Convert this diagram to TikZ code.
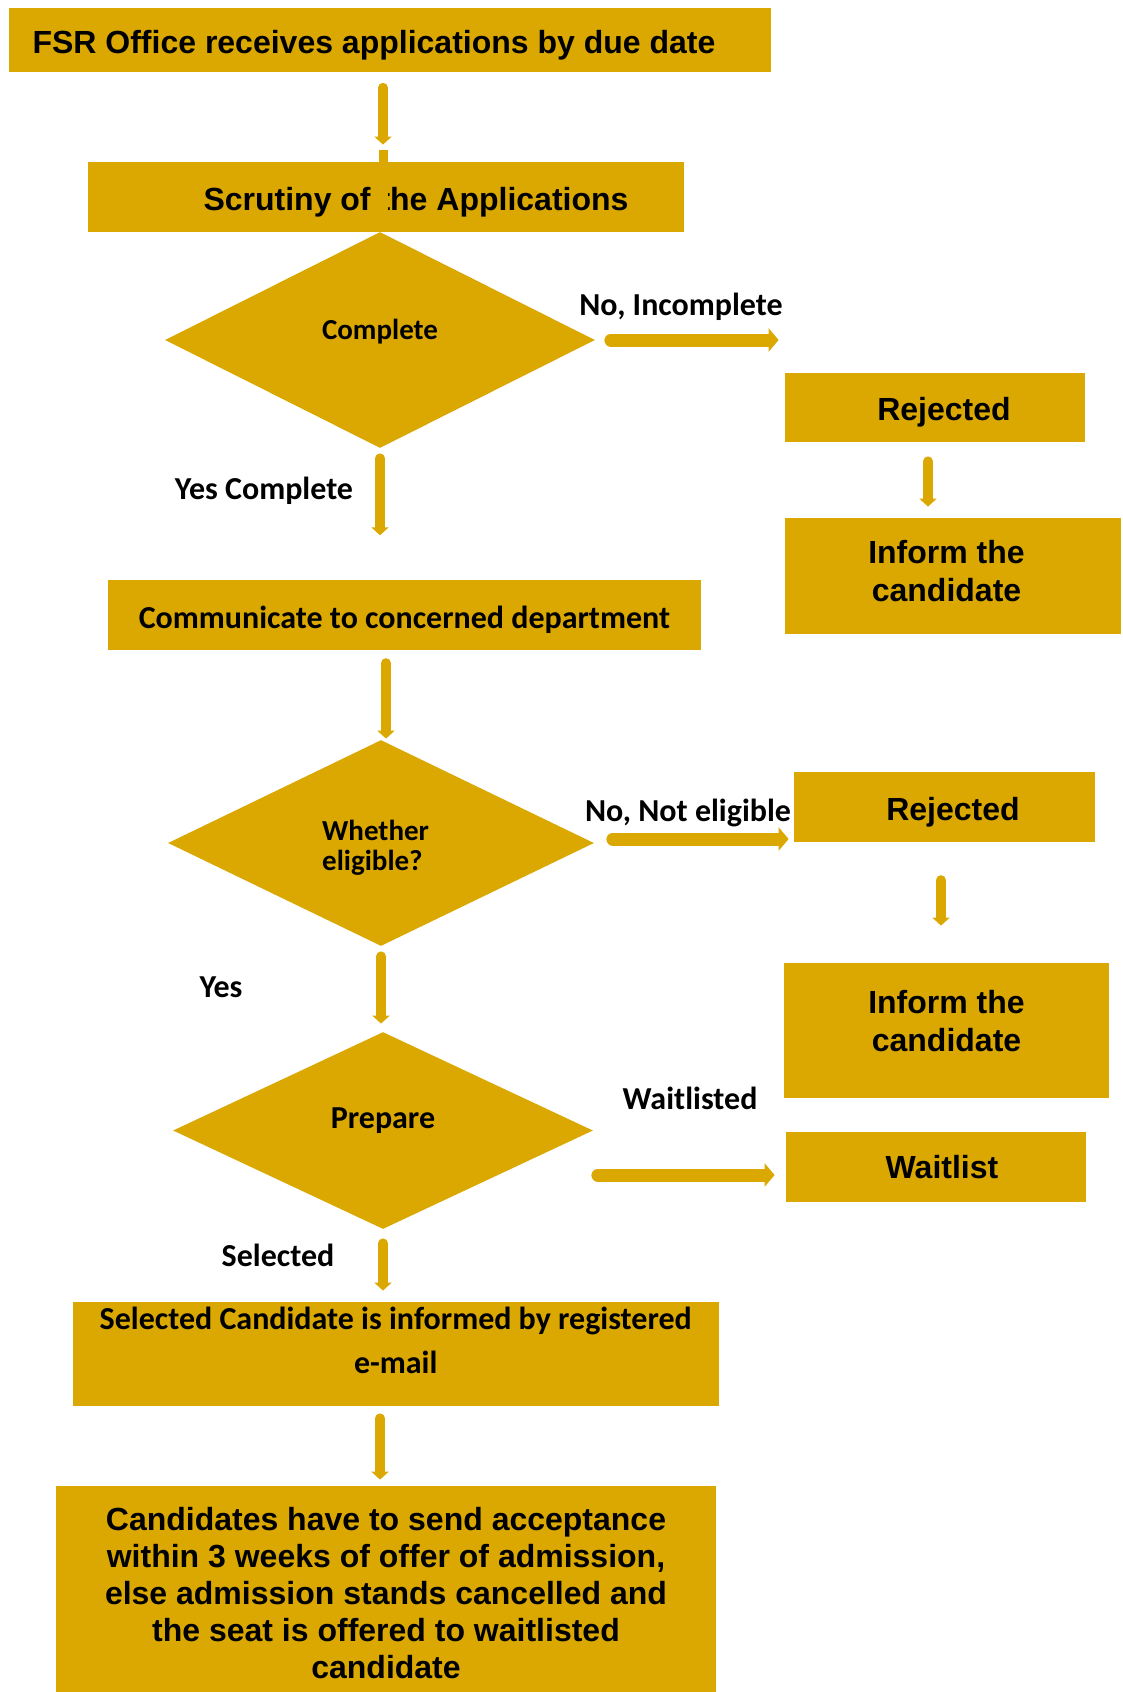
\documentclass[tikz,border=0pt]{standalone}
\usepackage{fontspec}
\setmainfont{Liberation Sans}
\newfontfamily\calibri{Carlito}
\usetikzlibrary{shapes.geometric,arrows.meta}
\definecolor{gold}{RGB}{218,168,0}
\tikzset{
	box/.style={fill=gold, inner sep=0pt, align=center, font=\bfseries\fontsize{16}{19}\selectfont},
	line/.style={text height=16pt, text depth=3pt},
	dia/.style={diamond, fill=gold, inner sep=0pt, align=center, font=\calibri\bfseries\fontsize{16}{19}\selectfont},
	lbl/.style={inner sep=0pt, font=\calibri\bfseries\fontsize{16}{19}\selectfont},
	flow/.style={draw=gold, line width=5pt, line cap=round, -{Triangle[length=4pt,width=8.5pt]}},
	flowh/.style={flow, line width=6.5pt, -{Triangle[length=5pt,width=11.5pt]}},
	cover/.style={draw=gold, line width=4.5pt}
}

\begin{document}
\begin{tikzpicture}[x=0.5pt, y=-0.5pt]
	\useasboundingbox (0,0) rectangle (1123,1692);
	\node[box, line, minimum width=381.2pt, minimum height=32.4pt] (fsr) at (390,40) {FSR Office receives applications by due date\hspace*{16pt}};
	\node[box, line, minimum width=297.8pt, minimum height=35pt] (scr) at (386,197) {\hspace*{30pt}Scrutiny of the Applications};
	\node[dia, minimum width=215pt, minimum height=108pt, font=\calibri\bfseries\fontsize{14.5}{15}\selectfont, text height=10pt, text depth=11pt] (c1) at (380,340) {Complete};
	\node[box, line, minimum width=150pt, minimum height=34.5pt] (rej1) at (935,407.5) {\hspace*{9pt}Rejected};
	\node[box, minimum width=168pt, minimum height=58pt] (inf1) at (953,576) {Inform the\kern6.5pt\\candidate\kern6.5pt\\[-13.6pt]\mbox{}};
	\node[box, minimum width=296.5pt, minimum height=35.3pt, font=\calibri\bfseries\fontsize{16}{19}\selectfont, text height=16pt, text depth=2.4pt] (com) at (404.5,615) {Communicate to concerned department};
	\node[dia, align=left, minimum width=213pt, minimum height=103pt, font=\calibri\bfseries\fontsize{14.5}{15}\selectfont] (c2) at (381,843) {\mbox{}\\[-0.5pt]Whether\kern5.4pt\\eligible?};
	\node[box, line, minimum width=150.5pt, minimum height=35.3pt] (rej2) at (944.5,807) {\hspace*{8.5pt}Rejected};
	\node[box, minimum width=162.5pt, minimum height=67.5pt] (inf2) at (946.5,1030.5) {Inform the\\candidate\\[-9pt]\mbox{}};
	\node[dia, minimum width=210pt, minimum height=98.5pt, text height=10pt, text depth=12.2pt] (c3) at (383,1130.5) {Prepare};
	\node[box, minimum width=150pt, minimum height=35pt] (wait) at (936,1167) {\hspace*{6pt}Waitlist};
	\node[box, minimum width=322.75pt, minimum height=52pt, font=\calibri\bfseries\fontsize{16}{22}\selectfont] (sel) at (395.75,1354) {Selected Candidate is informed by registered\\e-mail\\[-8pt]\mbox{}};
	\node[box, minimum width=330pt, minimum height=103.25pt, font=\bfseries\fontsize{16}{18.5}\selectfont] (fin) at (386,1588.75) {\mbox{}\\[-2.4pt]Candidates have to send acceptance\\within 3 weeks of offer of admission,\\else admission stands cancelled and\\the seat is offered to waitlisted\\candidate};
	\node[lbl] (lno1) at (681,307) {No, Incomplete};
	\node[lbl] (lyes1) at (264,491) {Yes Complete};
	\node[lbl] (lno2) at (688,813) {No, Not eligible};
	\node[lbl] (lyes2) at (221,987) {Yes};
	\node[lbl] (lwait) at (690,1098) {Waitlisted};
	\node[lbl] (lsel) at (278,1255) {Selected};
	\draw[flow, shorten <=7.5pt, shorten >=8.5pt] ([xshift=1.5pt]fsr.south -| c1.north) -- ([xshift=1.5pt]scr.north -| c1.north);
	\draw[cover] ([xshift=1.5pt, yshift=6pt]scr.north -| c1.north) -- ([xshift=1.5pt, yshift=9pt]scr.south -| c1.north);
	\draw[flowh, shorten <=7.75pt, shorten >=3pt] (c1.east) -- (c1.east -| rej1.west);
	\draw[flow, shorten <=9.5pt, shorten >=5.5pt] ([xshift=-3.5pt]rej1.south) -- ([xshift=-3.5pt]rej1.south |- inf1.north);
	\draw[flow, shorten <=5pt, shorten >=22pt] (c1.south) -- (c1.south |- com.north);
	\draw[flow, shorten <=6.25pt, shorten >=0.5pt] ([xshift=2.5pt]c2.north |- com.south) -- ([xshift=2.5pt]c2.north);
	\draw[flowh, shorten <=9.25pt, shorten >=2.5pt] ([yshift=2pt]c2.east) -- ([yshift=2pt]c2.east -| rej2.west);
	\draw[flow, shorten <=18.75pt, shorten >=18.5pt] ([xshift=-1.75pt]rej2.south) -- ([xshift=-1.75pt]rej2.south |- inf2.north);
	\draw[flow, shorten <=5pt, shorten >=4pt] (c2.south) -- (c2.south |- c3.north);
	\draw[flowh, shorten <=2.25pt, shorten >=5.5pt] ([yshift=-22.25pt]c3.east) -- ([yshift=-22.25pt]c3.east -| wait.west);
	\draw[flow, shorten <=7pt, shorten >=5.5pt] (c3.south) -- (c3.south |- sel.north);
	\draw[flow, shorten <=6pt, shorten >=2.75pt] ([xshift=-1.5pt]c3.south |- sel.south) -- ([xshift=-1.5pt]c3.south |- fin.north);
\end{tikzpicture}
\end{document}
